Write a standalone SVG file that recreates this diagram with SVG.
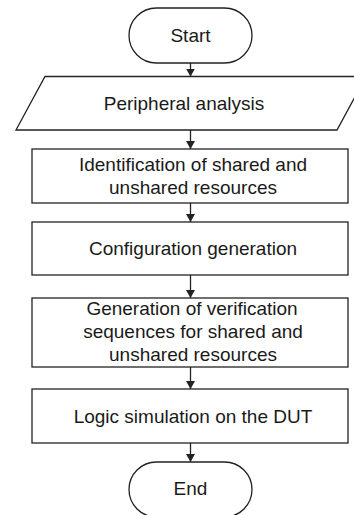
<svg xmlns="http://www.w3.org/2000/svg" width="354" height="515" viewBox="0 0 354 515">
<style>
.s{fill:#fff;stroke:#222;stroke-width:1.3}
.t{font-family:"Liberation Sans",Arial,Helvetica,sans-serif;font-size:19px;fill:#1a1a1a;text-anchor:middle}
.c{stroke:#222;stroke-width:1.3;fill:none;marker-end:url(#ah)}
</style>
<defs>
<marker id="ah" viewBox="0 0 8 9" refX="8" refY="4.5" markerWidth="8" markerHeight="9" markerUnits="userSpaceOnUse" orient="auto">
<path d="M0,0 L8,4.5 L0,9 Z" fill="#222"/>
</marker>
</defs>
<g id="connectors">
<line class="c" x1="190.5" y1="63" x2="190.5" y2="76.5"/>
<line class="c" x1="190.5" y1="130" x2="190.5" y2="149"/>
<line class="c" x1="190.5" y1="203" x2="190.5" y2="222"/>
<line class="c" x1="190.5" y1="275" x2="190.5" y2="298"/>
<line class="c" x1="190.5" y1="367" x2="190.5" y2="389"/>
<line class="c" x1="190.5" y1="443" x2="190.5" y2="462"/>
</g>
<g id="start">
<rect class="s" x="129" y="8" width="123" height="55" rx="27.5"/>
<text class="t" x="190.5" y="42">Start</text>
</g>
<g id="peripheral">
<polygon class="s" points="45,76.5 366,76.5 337,130 16,130"/>
<text class="t" x="184" y="109.5">Peripheral analysis</text>
</g>
<g id="identification">
<rect class="s" x="32" y="149" width="316" height="54"/>
<text class="t" x="193" y="171">Identification of shared and</text>
<text class="t" x="193" y="193.5">unshared resources</text>
</g>
<g id="configuration">
<rect class="s" x="32" y="222" width="316" height="53"/>
<text class="t" x="193" y="255">Configuration generation</text>
</g>
<g id="generation">
<rect class="s" x="32" y="298" width="316" height="69"/>
<text class="t" x="192" y="314.5">Generation of verification</text>
<text class="t" x="193" y="337.5">sequences for shared and</text>
<text class="t" x="193" y="360.5">unshared resources</text>
</g>
<g id="simulation">
<rect class="s" x="32" y="389" width="316" height="54"/>
<text class="t" x="193" y="422.5">Logic simulation on the DUT</text>
</g>
<g id="end">
<rect class="s" x="129" y="462" width="123" height="55" rx="27.5"/>
<text class="t" x="190.5" y="495">End</text>
</g>
</svg>
